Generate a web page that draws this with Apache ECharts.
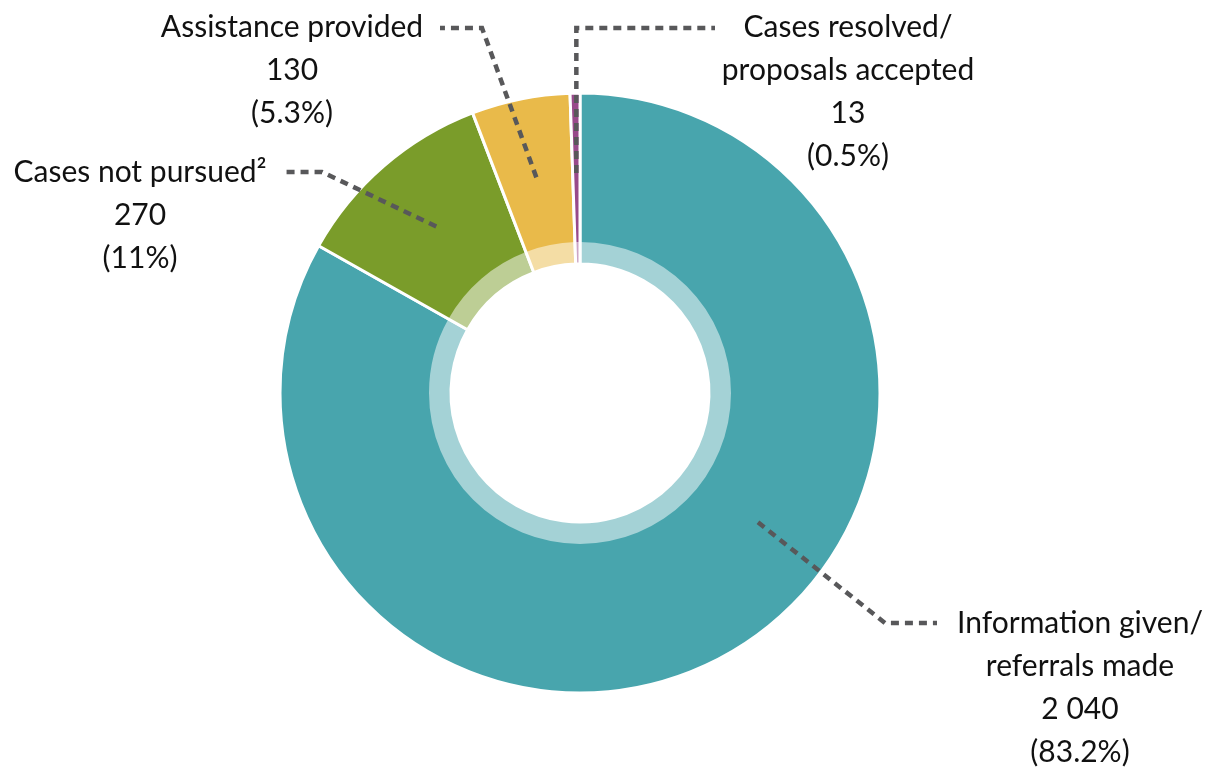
<!DOCTYPE html>
<html>
<head>
<meta charset="utf-8">
<script src="https://cdn.jsdelivr.net/npm/echarts@6/dist/echarts.min.js"></script>
<style>
  html, body { margin: 0; padding: 0; background: #fff; }
  #chart { width: 1223px; height: 767px; }
</style>
</head>
<body>
<div id="chart"></div>
<script>
const categories = ['Information given/\nreferrals made', 'Cases not pursued²', 'Assistance provided', 'Cases resolved/\nproposals accepted']
const values = [2040, 270, 130, 13]
const shareLabels = ['83.2%', '11%', '5.3%', '0.5%']
const colors = ['#48a5ad', '#7a9c2a', '#e9ba4a', '#984a8b']

// where each label sits (px): text centre x, first line y, bend and end of the dashed leader
const labelSpots = [
  { x: 1080, y: 623, bend: [885, 623], end: [937, 623], angle: 126 },
  { x: 140, y: 172, bend: [322, 172], end: [283, 172] },
  { x: 292, y: 27, bend: [482, 28], end: [440, 28] },
  { x: 848, y: 27, bend: null, end: [715, 28] }
]

const cx = 580
const cy = 393
const leadRadius = 220
const lineHeight = 43

const total = values.reduce((a, b) => a + b, 0)
const midAngles = []
let acc = 0
values.forEach(v => {
  midAngles.push((acc + v / 2) / total * 360)
  acc += v
})

const fmtNum = n => n.toLocaleString('en-US').replace(/,/g, ' ')

const chartDom = document.getElementById('chart')
const chart = echarts.init(chartDom, null, { renderer: 'canvas' })

const pieBase = {
  type: 'pie',
  center: [cx, cy],
  startAngle: 90,
  clockwise: true,
  avoidLabelOverlap: false,
  emphasis: { disabled: true }
}

const option = {
  animation: false,
  series: [
    {
      ...pieBase,
      radius: [129, 300],
      z: 2,
      itemStyle: { borderColor: '#fff', borderWidth: 3 },
      label: { show: false },
      labelLine: { show: false },
      data: categories.map((name, i) => ({ name: name, value: values[i], itemStyle: { color: colors[i] } }))
    },
    {
      // lighter inner band
      ...pieBase,
      radius: [129, 151],
      silent: true,
      z: 3,
      label: { show: false },
      labelLine: { show: false },
      itemStyle: { color: 'rgba(255,255,255,0.5)', borderWidth: 0 },
      data: categories.map((name, i) => ({ name: name, value: values[i] }))
    },
    {
      // labels and dashed leaders, drawn on top
      ...pieBase,
      radius: [129, 300],
      silent: true,
      z: 4,
      itemStyle: { color: 'rgba(0,0,0,0)', borderWidth: 0 },
      label: {
        show: true,
        position: 'outside',
        color: '#111',
        fontFamily: 'Lato',
        fontSize: 30,
        lineHeight: lineHeight,
        align: 'center',
        formatter: p => `${p.name}\n${fmtNum(p.value)}\n(${shareLabels[p.dataIndex]})`
      },
      labelLine: {
        show: true,
        smooth: false,
        lineStyle: {
          color: '#58585a',
          width: 4.5,
          type: [8, 6]
        }
      },
      labelLayout: params => {
        const i = params.dataIndex
        const spot = labelSpots[i]
        const ang = (spot.angle != null ? spot.angle : midAngles[i]) * Math.PI / 180
        const start = [cx + leadRadius * Math.sin(ang), cy - leadRadius * Math.cos(ang)]
        const bend = spot.bend || [start[0], spot.end[1]]
        return {
          x: spot.x,
          y: spot.y - lineHeight / 2,
          align: 'center',
          verticalAlign: 'top',
          labelLinePoints: [start, bend, spot.end]
        }
      },
      data: categories.map((name, i) => ({ name: name, value: values[i] }))
    }
  ]
}

option && chart.setOption(option)
</script>
</body>
</html>
